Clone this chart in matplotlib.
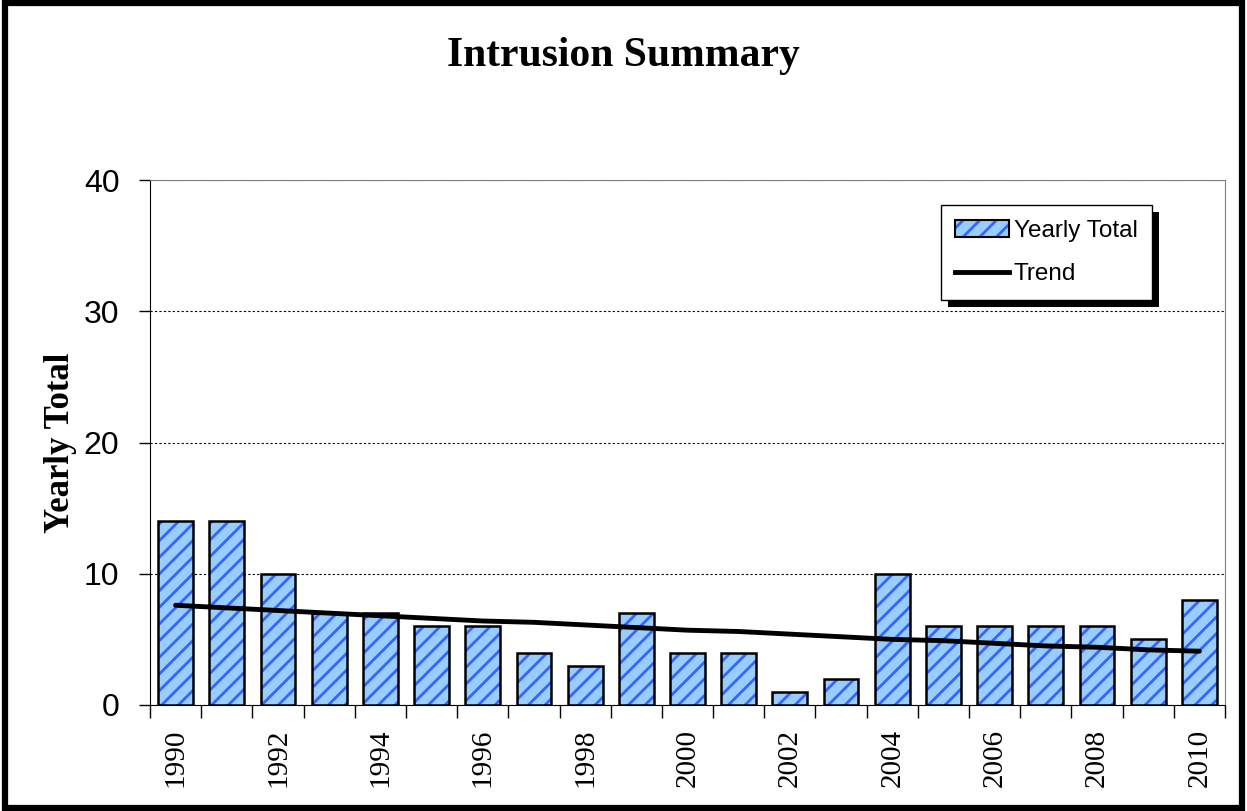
import matplotlib.pyplot as plt
from matplotlib.patches import Rectangle, Patch
from matplotlib.lines import Line2D
from matplotlib.legend_handler import HandlerTuple
import numpy as np

years = list(range(1990, 2011))
totals = [14, 14, 10, 7, 7, 6, 6, 4, 3, 7, 4, 4, 1, 2, 10, 6, 6, 6, 6, 5, 8]
trend = [7.6, 7.4, 7.2, 7.0, 6.8, 6.6, 6.4, 6.3, 6.1, 5.9, 5.7, 5.6, 5.4, 5.2, 5.0, 4.9, 4.7, 4.5, 4.4, 4.2, 4.1]
year_labels = [str(y) if y % 2 == 0 else "" for y in years]

bar_face = "#99CCFF"
hatch_col = "#3366FF"
plt.rcParams["hatch.linewidth"] = 2.0
plt.rcParams["font.family"] = ["Liberation Serif"]

fig = plt.figure(figsize=(12.47, 8.11), dpi=100)
ax = fig.add_axes([150 / 1247, 1 - 705 / 811, 1075 / 1247, 525 / 811])

x = np.arange(len(years))
# hatched fill first, black outline on top
ax.bar(x, totals, width=0.68, color=bar_face, edgecolor=hatch_col, hatch="//", linewidth=0, zorder=3)
ax.bar(x, totals, width=0.68, fill=False, edgecolor="black", linewidth=1.8, zorder=4)
ax.plot(x, trend, color="black", linewidth=3.5, solid_capstyle="round", zorder=5)

ax.set_xlim(-0.5, len(years) - 0.5)
ax.set_ylim(0, 40)
ax.set_yticks([0, 10, 20, 30, 40])
ax.tick_params(axis="y", labelsize=23, length=8, width=1, pad=14,
               labelfontfamily="Liberation Sans")

ax.set_xticks(x)
ax.set_xticklabels(year_labels, rotation=90)
ax.tick_params(axis="x", which="major", length=0, pad=17, labelsize=21)
ax.set_xticks(np.arange(-0.5, len(years)), minor=True)
ax.tick_params(axis="x", which="minor", length=9, width=1)

ax.yaxis.grid(True, linestyle=(0, (2, 2)), color="black", linewidth=0.8, zorder=0)
for side in ["top", "right"]:
    ax.spines[side].set_color("#808080")

ax.set_ylabel("Yearly Total", fontsize=25, fontweight="bold", labelpad=5)

fig.text(0.5, 1 - 56 / 811, "Intrusion Summary", ha="center", va="center",
         fontsize=30, fontweight="bold")

bar_handle = (Patch(facecolor=bar_face, edgecolor=hatch_col, hatch="//", linewidth=0),
              Patch(fill=False, edgecolor="black", linewidth=1.5))
line_handle = Line2D([0], [0], color="black", linewidth=3.5)
leg = ax.legend([bar_handle, line_handle], ["Yearly Total", "Trend"], loc="upper right",
                bbox_to_anchor=(1002 / 1075, 1 - 25 / 525), borderaxespad=0, fancybox=False,
                shadow=False, framealpha=1, edgecolor="black",
                prop={"family": "Liberation Sans", "size": 17.5},
                handlelength=2.2, handletextpad=0.2, borderpad=0.6, labelspacing=0.9,
                handler_map={tuple: HandlerTuple(ndivide=1)})
leg.get_frame().set_linewidth(1)
leg.set_zorder(6)

# solid black drop shadow behind the legend
fig.canvas.draw()
bb = leg.get_window_extent()
ax.add_patch(Rectangle((bb.x0 + 7, bb.y0 - 7), bb.width, bb.height, transform=None,
                       facecolor="black", edgecolor="none", zorder=5.5, clip_on=False))

fig.patches.append(Rectangle((0.004, 0.004), 0.992, 0.992, transform=fig.transFigure,
                             fill=False, edgecolor="black", linewidth=4.5))

fig.savefig("out.png", dpi=100)
